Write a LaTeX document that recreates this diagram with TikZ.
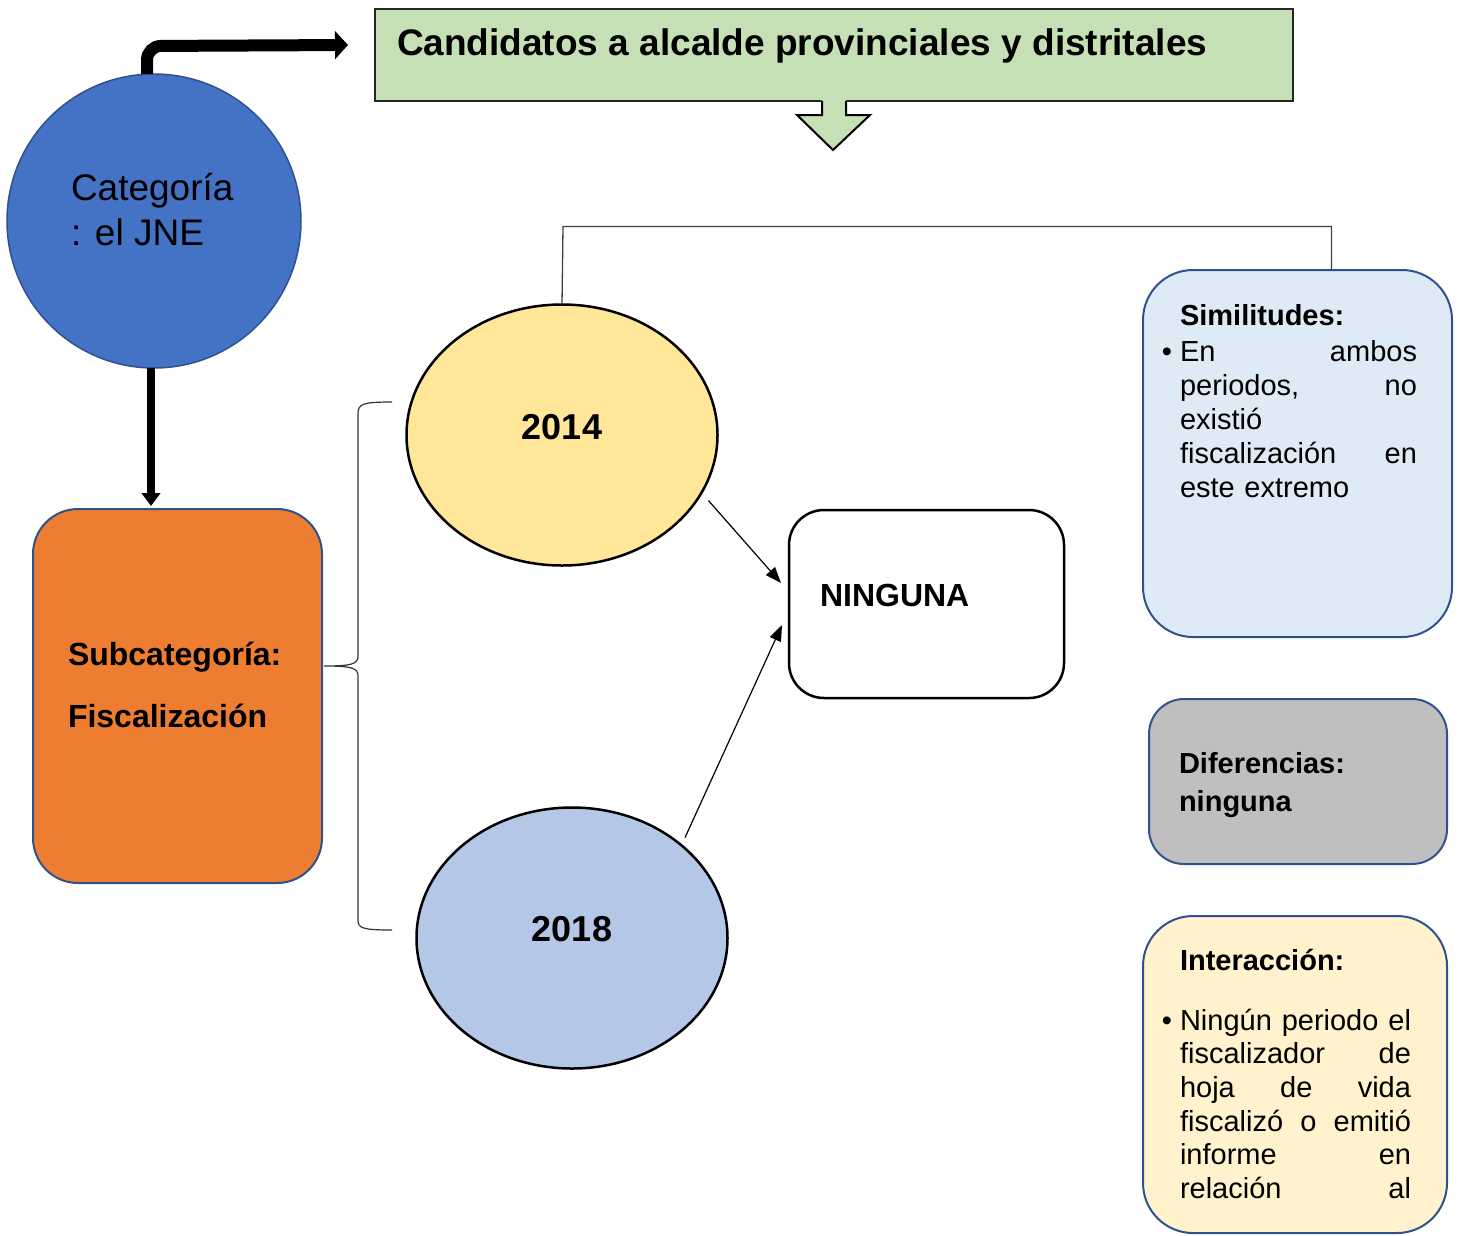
\documentclass[tikz,border=0pt]{standalone}
\usepackage{fontspec}
\setmainfont{Liberation Sans}
\usetikzlibrary{arrows.meta,shapes.geometric}
\setlength\parindent{0pt}
\setlength\parskip{0pt}
\newcommand\setfs[2]{\fontsize{#1}{#2}\selectfont}
\definecolor{catblue}{HTML}{4472C4}
\definecolor{edgeblue}{HTML}{2F528F}
\definecolor{titlegreen}{HTML}{C5E0B4}
\definecolor{suborange}{HTML}{ED7D31}
\definecolor{yeargold}{HTML}{FFE699}
\definecolor{yearblue}{HTML}{B4C7E7}
\definecolor{simblue}{HTML}{DEEBF7}
\definecolor{difgray}{HTML}{BFBFBF}
\definecolor{intcream}{HTML}{FFF2CC}
\begin{document}
\begin{tikzpicture}[x=1pt,y=-1pt,
	every node/.style={inner sep=0pt,outer sep=0pt},
	txt/.style={anchor=base west,align=left},
	card/.style={draw=edgeblue,line width=2pt,rounded corners=#1},
	card/.default=50pt,
	year/.style={ellipse,draw,line width=2.5pt,minimum width=311pt,minimum height=261pt},
	thickarr/.style={line width=#1,-{Triangle[length=13pt,width=2.3*#1]}},
	thinarr/.style={line width=1.2pt,-{Triangle[length=16pt,width=12pt]}}]
	\useasboundingbox (0,0) rectangle (1461,1235);
	% categoria y subcategoria
	\node[circle,fill=catblue,draw=edgeblue,line width=1.5pt,minimum size=294pt] (cat) at (154,221) {};
	\node[txt,font=\setfs{37}{45}] (catlbl) at (71,245) {Categoría\\: el JNE};
	\node[card=45pt,fill=suborange,minimum width=289pt,minimum height=374pt] (sub) at (177.5,696) {};
	\node[txt,font=\bfseries\setfs{32}{62}] (sublbl) at (68,727) {Subcategoría:\\Fiscalización};
	% titulo
	\node[draw=black!85,line width=2.5pt,fill=titlegreen,minimum width=918pt,minimum height=92pt] (tit) at (834,55) {};
	\node[txt,font=\bfseries\setfs{37}{44}] (titlbl) at (397,55) {Candidatos a alcalde provinciales y distritales};
	\fill[titlegreen] (822,100) -- (822,115) -- (797,115) -- (833,150) -- (870,115) -- (846,115) -- (846,100) -- cycle;
	\draw[line width=2pt,line join=miter] (822,101) -- (822,115) -- (797,115) -- (833,150) -- (870,115) -- (846,115) -- (846,101);
	\coordinate (titin) at (348,45);
	\draw[thickarr=12pt,rounded corners=14pt] ([xshift=-7pt]cat.north) -- ++(0,-28) -- (titin);
	\draw[thickarr=8pt] ([xshift=-3pt]cat.south) -- ([xshift=-26.5pt,yshift=3pt]sub.north);
	% periodos
	\node[year,fill=yeargold] (y14) at (562,435) {};
	\node[anchor=base,font=\bfseries\setfs{36}{40}] (y14lbl) at (562,439) {2014};
	\node[year,fill=yearblue] (y18) at (572,938) {};
	\node[anchor=base,font=\bfseries\setfs{36}{40}] (y18lbl) at (572,941) {2018};
	\draw[line width=1.2pt,black!80] (392,402) .. controls (362,402) and (358,404) .. (358,414) -- (358,656)
		.. controls (358,664) and (352,666) .. (324,666) .. controls (352,666) and (358,668) .. (358,676)
		-- (358,920) .. controls (358,928) and (362,930) .. (392,930);
	% resultado
	\node[draw,line width=2.5pt,rounded corners=35pt,fill=white,minimum width=275pt,minimum height=188pt] (nin) at (926.5,604) {};
	\node[txt,font=\bfseries\setfs{32}{38}] (ninlbl) at (820,606) {NINGUNA};
	\draw[thinarr] ([xshift=12pt]y14.-26) -- ([shift={(-8pt,21pt)}]nin.west);
	\draw[thinarr] ([shift={(7pt,5pt)}]y18.42) -- ([shift={(-7pt,-21pt)}]nin.west);
	% cuadros de la derecha
	\node[card,fill=simblue,minimum width=309pt,minimum height=367pt] (sim) at (1297.5,453.5) {};
	\node[txt,font=\bfseries\setfs{29}{34}] (simhd) at (1180,325) {Similitudes:};
	\node[anchor=base,font=\setfs{29}{34}] (simdot) at (1167,361) {•};
	\node[txt,text width=237pt,font=\setfs{29}{34}] (simtx) at (1180,361)
		{En\hfill ambos\\periodos,\hfill no\\existió\\fiscalización\hfill en\\este extremo};
	\node[card=35pt,fill=difgray,minimum width=298pt,minimum height=165pt] (dif) at (1298,781.5) {};
	\node[txt,font=\bfseries\setfs{29}{38}] (difhd) at (1179,811) {Diferencias:\\ninguna};
	\node[card,fill=intcream,minimum width=304pt,minimum height=317pt] (int) at (1295,1074.5) {};
	\node[txt,font=\bfseries\setfs{29}{34}] (inthd) at (1180,970) {Interacción:};
	\node[anchor=base,font=\setfs{29}{34}] (intdot) at (1167,1030) {•};
	\node[txt,text width=231pt,font=\setfs{29}{33.7}] (inttx) at (1180,1030)
		{Ningún\hfill periodo\hfill el\\fiscalizador\hfill de\\hoja\hfill de\hfill vida\\fiscalizó\hfill o\hfill emitió\\informe\hfill en\\relación\hfill al};
	\draw[line width=1.3pt,black!75] (y14.north) -- ++(1,-78) -| ([xshift=34pt]sim.north);
\end{tikzpicture}
\end{document}
